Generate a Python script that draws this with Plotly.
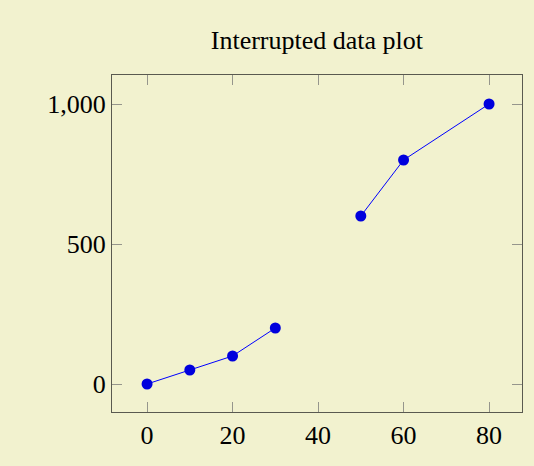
import plotly.graph_objects as go

x_vals = [0, 10, 20, 30, None, 50, 60, 80]
y_vals = [0, 50, 100, 200, None, 600, 800, 1000]
x_ticks = [0, 20, 40, 60, 80]
y_ticks = [0, 500, 1000]
y_tick_labels = ["0", "500", "1,000"]
title = "Interrupted data plot"

bg = "rgb(242,242,207)"
font_family = "Liberation Serif, DejaVu Serif, serif"

fig = go.Figure()
fig.add_trace(go.Scatter(
    x=x_vals, y=y_vals, mode="lines+markers",
    line=dict(color="#0000ff", width=1),
    marker=dict(color="#0000dd", size=11, line=dict(width=0)),
    connectgaps=False, showlegend=False,
))

axis_common = dict(
    showgrid=False, zeroline=False, showline=True, mirror="allticks",
    linecolor="rgb(90,90,80)", linewidth=1.3,
    ticks="inside", ticklen=10, tickwidth=1, tickcolor="rgb(150,150,140)",
    tickfont=dict(family=font_family, size=26, color="black"),
)

fig.update_layout(
    width=534, height=466,
    paper_bgcolor=bg, plot_bgcolor=bg,
    margin=dict(l=112, r=12, t=75, b=54),
    title=dict(text=title, x=0.5935, xanchor="center", y=0.914, yanchor="middle",
               font=dict(family=font_family, size=26, color="black")),
    xaxis=dict(range=[-8.2, 87.7], tickvals=x_ticks, **axis_common),
    yaxis=dict(range=[-100, 1103.6], tickvals=y_ticks, ticktext=y_tick_labels,
               **axis_common),
)
fig.write_html("out.html", config={"displayModeBar": False},
               post_script="document.body.style.margin='0';")
